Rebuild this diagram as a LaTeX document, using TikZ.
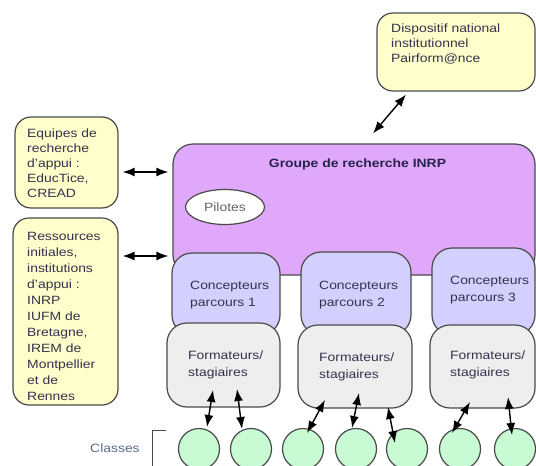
\documentclass[tikz,border=0pt]{standalone}
\usepackage{fontspec}
\setmainfont{Liberation Sans}[FakeStretch=1.16]
\usetikzlibrary{arrows.meta,shapes.geometric}
\definecolor{yel}{HTML}{FFFFCC}
\definecolor{edge}{HTML}{4A4A4A}
\definecolor{grpfill}{HTML}{DFA8FA}
\definecolor{confill}{HTML}{D3D0FF}
\definecolor{forfill}{HTML}{EEEEEE}
\definecolor{circfill}{HTML}{C8FAD4}
\definecolor{txtc}{HTML}{35324D}
\definecolor{piltxt}{HTML}{6A6262}
\definecolor{clstxt}{HTML}{5A6A8A}
\definecolor{titletxt}{HTML}{26234A}
\begin{document}
\begin{tikzpicture}[x=1pt,y=-1pt,
  box/.style={draw=edge, line width=1.2pt, rounded corners=16pt, inner sep=0pt},
  ybox/.style={box, fill=yel},
  gbox/.style={box, fill=grpfill, rounded corners=20pt},
  cbox/.style={box, fill=confill, rounded corners=20pt},
  fbox/.style={box, fill=forfill, rounded corners=20pt},
  circ/.style={circle, draw=edge, line width=1.2pt, fill=circfill, minimum size=41pt, inner sep=0pt},
  txt/.style={inner sep=0pt, anchor=north west, align=left, text=txtc, font=\fontsize{12}{15}\selectfont},
  dbl/.style={{Latex[length=12pt,width=9pt]}-{Latex[length=12pt,width=9pt]}, line width=1.4pt, draw=black}
]
\useasboundingbox (0,0) rectangle (536,466);
\clip (0,0) rectangle (536,466);

% external boxes
\node[ybox, minimum width=158pt, minimum height=78pt] (disp) at (456,52) {};
\node[txt] (dispt) at (391,24) {Dispositif national\\institutionnel\\Pairform@nce};

\node[ybox, minimum width=103pt, minimum height=91pt] (equ) at (66.5,162.5) {};
\node[txt] (equt) at (27,129) {Equipes de\\recherche\\d'appui :\\EducTice,\\CREAD};

\node[ybox, minimum width=105pt, minimum height=187pt] (res) at (65.5,311.5) {};
\node[txt, font=\fontsize{12}{16}\selectfont] (rest) at (27,232) {Ressources\\initiales,\\institutions\\d'appui :\\INRP\\IUFM de\\Bretagne,\\IREM de\\Montpellier\\et de\\Rennes};

% group
\node[gbox, minimum width=362pt, minimum height=131pt] (grp) at (354,209.5) {};
\node[inner sep=0pt, anchor=base, text=titletxt, font=\fontsize{12}{15}\selectfont\bfseries] (grpt) at (357.5,167) {Groupe de recherche INRP};
\node[ellipse, draw=edge, line width=1.2pt, fill=white, minimum width=79pt, minimum height=35pt, inner sep=0pt, text=piltxt, font=\fontsize{12}{15}\selectfont] (pil) at (225,207) {Pilotes};

% concepteurs
\node[cbox, minimum width=108pt, minimum height=82pt] (con1) at (226,294) {};
\node[cbox, minimum width=110pt, minimum height=83pt] (con2) at (356,293.5) {};
\node[cbox, minimum width=103pt, minimum height=87pt] (con3) at (483.5,291.5) {};
\node[txt, font=\fontsize{12}{16.5}\selectfont] (cont1) at (190,281) {Concepteurs\\parcours 1};
\node[txt, font=\fontsize{12}{16.5}\selectfont] (cont2) at (319,281) {Concepteurs\\parcours 2};
\node[txt, font=\fontsize{12}{16.5}\selectfont] (cont3) at (450,276) {Concepteurs\\parcours 3};

% formateurs
\node[fbox, minimum width=113pt, minimum height=84pt] (for1) at (223.5,365) {};
\node[fbox, minimum width=114pt, minimum height=83pt] (for2) at (355,366.5) {};
\node[fbox, minimum width=105pt, minimum height=83pt] (for3) at (482.5,366.5) {};
\node[txt, font=\fontsize{12}{17}\selectfont] (fort1) at (188,351) {Formateurs/\\stagiaires};
\node[txt, font=\fontsize{12}{17}\selectfont] (fort2) at (319,353) {Formateurs/\\stagiaires};
\node[txt, font=\fontsize{12}{17}\selectfont] (fort3) at (450,351) {Formateurs/\\stagiaires};

% classes
\node[inner sep=0pt, anchor=base west, text=clstxt, font=\fontsize{12}{15}\selectfont] (cls) at (90,452) {Classes};
\draw[draw=edge, line width=1pt] (166,430) -- (152,430) -- (152,466);
\node[circ] (c1) at (199,449) {};
\node[circ] (c2) at (251,449) {};
\node[circ] (c3) at (303,449) {};
\node[circ] (c4) at (356,449) {};
\node[circ] (c5) at (407,449) {};
\node[circ] (c6) at (460,449) {};
\node[circ] (c7) at (515,449) {};

% connectors
\draw[dbl] ([shift={(-50,3)}]disp.south) -- ([shift={(19,-10)}]grp.north);
\draw[dbl] ([shift={(4,9.5)}]equ.east) -- ([shift={(-4,-37.5)}]grp.west);
\draw[dbl] ([shift={(4,-55.5)}]res.east) -- ([shift={(-4,46.5)}]grp.west);

\draw[dbl] ([shift={(-10.5,25)}]for1.center) -- ([shift={(8,-22)}]c1.center);
\draw[dbl] ([shift={(13.5,24)}]for1.center) -- ([shift={(-9,-20)}]c2.center);
\draw[dbl] ([shift={(-30,33.5)}]for2.center) -- ([shift={(4,-16)}]c3.center);
\draw[dbl] ([shift={(4,26.5)}]for2.center) -- ([shift={(-4,-21)}]c4.center);
\draw[dbl] ([shift={(33,40.5)}]for2.center) -- ([shift={(-12,-6)}]c5.center);
\draw[dbl] ([shift={(-12.5,35.5)}]for3.center) -- ([shift={(-8,-16)}]c6.center);
\draw[dbl] ([shift={(25.5,30.5)}]for3.center) -- ([shift={(-3,-14)}]c7.center);
\end{tikzpicture}
\end{document}
